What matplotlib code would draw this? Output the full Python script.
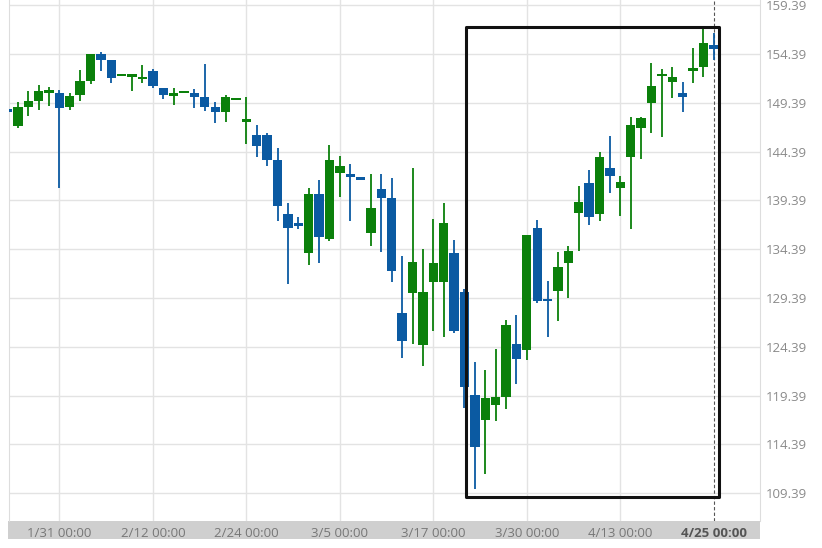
import matplotlib.pyplot as plt
from matplotlib.patches import Rectangle

# OHLC data, one candle per index
opens = [148.70, 147.00, 149.00, 149.57, 150.43, 150.43, 148.99, 150.19, 151.66, 154.36,
         153.77, 152.15, 152.10, 151.80, 152.65, 150.94, 150.20, 150.45, 150.43, 149.95,
         148.99, 148.42, 149.68, 147.55, 146.09, 146.09, 143.53, 137.99, 137.04, 133.97,
         140.01, 135.40, 142.17, 142.09, 141.70, 136.07, 140.55, 139.60, 127.82, 129.93,
         124.58, 131.06, 131.06, 133.97, 130.04, 119.41, 116.91, 118.45, 119.29, 124.65,
         124.09, 136.55, 129.30, 130.10, 133.01, 138.07, 141.14, 137.97, 142.68, 140.63,
         143.87, 146.78, 149.34, 152.15, 151.55, 150.36, 152.70, 153.09, 155.31]
highs = [148.75, 149.50, 150.63, 151.20, 151.04, 150.70, 150.43, 152.75, 154.40, 154.56,
         153.77, 152.30, 152.25, 153.30, 152.82, 150.94, 150.87, 150.55, 150.77, 153.37,
         149.50, 150.19, 149.90, 149.95, 147.12, 146.27, 144.73, 139.08, 137.72, 140.69,
         141.48, 145.07, 143.94, 143.09, 141.70, 142.09, 142.09, 141.65, 133.70, 142.68,
         134.38, 137.45, 139.15, 135.33, 130.28, 122.88, 122.03, 124.15, 127.14, 127.70,
         135.87, 137.37, 131.13, 134.07, 134.72, 140.85, 142.50, 144.38, 145.99, 141.92,
         147.97, 147.97, 153.44, 152.82, 153.03, 151.55, 154.97, 156.92, 156.51]
lows = [148.45, 146.80, 148.04, 148.70, 149.06, 140.63, 148.70, 149.57, 151.30, 152.68,
        151.45, 152.15, 150.60, 151.45, 150.88, 149.75, 149.16, 150.45, 148.83, 148.50,
        147.35, 147.46, 149.68, 145.14, 143.87, 142.92, 137.28, 130.82, 136.43, 132.77,
        133.01, 135.26, 139.77, 137.28, 141.57, 134.72, 134.14, 131.06, 123.22, 124.65,
        122.38, 126.05, 125.36, 125.77, 118.09, 109.80, 111.34, 116.80, 118.07, 120.60,
        123.00, 128.86, 125.42, 127.03, 129.42, 134.24, 136.86, 137.28, 140.18, 137.79,
        136.43, 143.60, 146.33, 145.92, 149.85, 148.48, 151.45, 152.00, 153.78]
closes = [148.45, 149.00, 149.57, 150.63, 150.70, 148.83, 150.09, 151.66, 154.36, 153.77,
          151.96, 152.30, 152.25, 152.07, 151.11, 150.16, 150.35, 150.55, 150.02, 148.99,
          148.42, 149.95, 149.90, 147.65, 144.97, 143.53, 138.82, 136.52, 136.77, 140.04,
          135.67, 143.53, 142.95, 141.76, 141.57, 138.57, 139.60, 132.15, 124.98, 133.11,
          130.04, 132.94, 137.04, 126.01, 120.24, 114.12, 119.20, 119.24, 126.60, 123.10,
          135.87, 129.04, 129.10, 132.53, 134.24, 139.26, 137.65, 143.81, 141.89, 141.24,
          147.12, 147.80, 151.11, 152.30, 152.06, 150.02, 152.85, 155.55, 154.93]

tick_pos = [5, 14, 23, 32, 41, 50, 59, 68]
tick_labels = ['1/31 00:00', '2/12 00:00', '2/24 00:00', '3/5 00:00',
               '3/17 00:00', '3/30 00:00', '4/13 00:00', '4/25 00:00']
y_ticks = [109.39, 114.39, 119.39, 124.39, 129.39, 134.39, 139.39, 144.39, 149.39, 154.39, 159.39]

# pattern box (start, end index / top, bottom price)
box_x = [44.18, 68.5]
box_y = [109.0, 157.2]

up_color = '#0b800b'
down_color = '#0b5aa2'

plt.rcParams['font.family'] = ['Open Sans', 'DejaVu Sans']

fig = plt.figure(figsize=(8.22, 5.48), dpi=100)
ax = fig.add_axes([9 / 822, 27 / 548, 751 / 822, 521 / 548])

# grey band under the x axis
fig.patches.append(Rectangle((8 / 822, 9 / 548), 752 / 822, 18 / 548,
                             transform=fig.transFigure, facecolor='#cfcfcf',
                             edgecolor='none', zorder=-1))

for i in range(len(opens)):
    o, h, l, c = opens[i], highs[i], lows[i], closes[i]
    col = up_color if c >= o else down_color
    ax.plot([i, i], [l, h], color=col, lw=1.3, zorder=3, solid_capstyle='butt')
    bottom = min(o, c)
    height = max(abs(c - o), 0.28)
    if abs(c - o) < 0.28:
        bottom = (o + c) / 2 - 0.14
    ax.add_patch(Rectangle((i - 0.45, bottom), 0.9, height, facecolor=col,
                           edgecolor='none', zorder=4))

# last candle marker
ax.axvline(68, color='#555555', lw=0.8, ls=(0, (3, 2)), zorder=2)

ax.add_patch(Rectangle((box_x[0], box_y[0]), box_x[1] - box_x[0], box_y[1] - box_y[0],
                       facecolor='none', edgecolor='#111111', lw=2.2,
                       joinstyle='round', zorder=5))

ax.set_xlim(0.15, 72.45)
ax.set_ylim(106.55, 159.92)

ax.set_xticks(tick_pos[:-1])
ax.set_xticks([tick_pos[-1]], minor=True)
ax.set_xticklabels(tick_labels[:-1])
ax.set_xticklabels([tick_labels[-1]], minor=True, fontweight='bold')
ax.tick_params(axis='x', which='both', length=0, pad=4, labelsize=9.5, colors='#777777')
ax.tick_params(axis='x', which='minor', labelcolor='#555555')
ax.grid(axis='x', which='major', color='#e3e3e3', lw=1)

ax.set_yticks(y_ticks)
ax.set_yticklabels([f'{v:.2f}' for v in y_ticks])
ax.yaxis.tick_right()
ax.tick_params(axis='y', length=0, pad=4, labelsize=9.5, colors='#8a8a8a')
ax.grid(axis='y', color='#e3e3e3', lw=1)
ax.set_axisbelow(True)

for side in ['top', 'bottom']:
    ax.spines[side].set_visible(False)
for side in ['left', 'right']:
    ax.spines[side].set_color('#dddddd')

fig.savefig('out.png', dpi=100)
